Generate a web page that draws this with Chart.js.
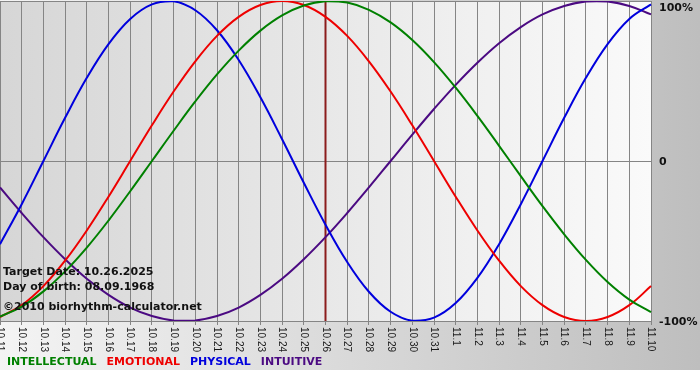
<!DOCTYPE html>
<html>
<head>
<meta charset="utf-8">
<script src="https://cdn.jsdelivr.net/npm/chart.js@4/dist/chart.umd.min.js"></script>
<style>
html, body { margin: 0; padding: 0; background: #fff; }
#bio { display: block; }
</style>
</head>
<body>
<canvas id="bio" width="700" height="370"></canvas>
<script>
var days = ['10.11', '10.12', '10.13', '10.14', '10.15', '10.16', '10.17', '10.18', '10.19', '10.20',
  '10.21', '10.22', '10.23', '10.24', '10.25', '10.26', '10.27', '10.28', '10.29', '10.30', '10.31',
  '11.1', '11.2', '11.3', '11.4', '11.5', '11.6', '11.7', '11.8', '11.9', '11.10'];

var intellectual = [-97.2, -91.0, -81.5, -69.0, -54.1, -37.2, -18.9, 0, 18.9, 37.2, 54.1, 69.0, 81.5, 91.0, 97.2,
  99.9, 99.0, 94.5, 86.6, 75.6, 61.8, 45.8, 28.2, 9.5, -9.5, -28.2, -45.8, -61.8, -75.6, -86.6, -94.5];
var emotional = [-97.5, -90.1, -78.2, -62.3, -43.4, -22.3, 0, 22.3, 43.4, 62.3, 78.2, 90.1, 97.5, 100, 97.5,
  90.1, 78.2, 62.3, 43.4, 22.3, 0, -22.3, -43.4, -62.3, -78.2, -90.1, -97.5, -100, -97.5, -90.1, -78.2];
var physical = [-52.0, -27.0, 0, 27.0, 52.0, 73.1, 88.8, 97.9, 99.8, 94.2, 81.7, 63.1, 39.8, 13.6, -13.6,
  -39.8, -63.1, -81.7, -94.2, -99.8, -97.9, -88.8, -73.1, -52.0, -27.0, 0, 27.0, 52.0, 73.1, 88.8, 97.9];
var intuitive = [-16.5, -32.5, -47.6, -61.4, -73.6, -83.7, -91.6, -96.9, -99.7, -99.7, -96.9, -91.6, -83.7, -73.6, -61.4,
  -47.6, -32.5, -16.5, 0, 16.5, 32.5, 47.6, 61.4, 73.6, 83.7, 91.6, 96.9, 99.7, 99.7, 96.9, 91.6];

var yTicks = [100, 0, -100];
var targetDay = '10.26';
var infoLines = ['Target Date: 10.26.2025', 'Day of birth: 08.09.1968', '\u00a92010 biorhythm-calculator.net'];
var legendNames = ['INTELLECTUAL', 'EMOTIONAL', 'PHYSICAL', 'INTUITIVE'];
var colors = ['#008000', '#ee0000', '#0000dd', '#4b0a82'];

var bioPlugin = {
  id: 'bioPlugin',
  beforeDraw: function (chart) {
    var ctx = chart.ctx;
    var a = chart.chartArea;
    var g = ctx.createLinearGradient(0, 0, chart.width, 0);
    g.addColorStop(0, '#f4f4f4');
    g.addColorStop(1, '#bebebe');
    ctx.save();
    ctx.fillStyle = g;
    ctx.fillRect(0, 0, chart.width, chart.height);
    var g2 = ctx.createLinearGradient(a.left, 0, a.right, 0);
    g2.addColorStop(0, '#d6d6d6');
    g2.addColorStop(1, '#fafafa');
    ctx.fillStyle = g2;
    ctx.fillRect(a.left, a.top, a.right - a.left, a.bottom - a.top);
    ctx.restore();
  },
  beforeDatasetsDraw: function (chart) {
    var ctx = chart.ctx;
    var a = chart.chartArea;
    var x = chart.scales.x.getPixelForValue(days.indexOf(targetDay));
    ctx.save();
    ctx.strokeStyle = '#8b1c1c';
    ctx.lineWidth = 2;
    ctx.beginPath();
    ctx.moveTo(x, a.top);
    ctx.lineTo(x, a.bottom);
    ctx.stroke();
    ctx.restore();
  },
  afterDatasetsDraw: function (chart) {
    var ctx = chart.ctx;
    var a = chart.chartArea;
    var xs = chart.scales.x;
    var ys = chart.scales.y;
    ctx.save();

    // day labels turned to read top to bottom
    ctx.fillStyle = '#1a1a1a';
    ctx.font = '10px "Liberation Sans"';
    ctx.textAlign = 'left';
    ctx.textBaseline = 'middle';
    days.forEach(function (d, i) {
      ctx.save();
      ctx.translate(xs.getPixelForTick(i), a.bottom + 6);
      ctx.rotate(Math.PI / 2);
      ctx.fillText(d, 0, 0);
      ctx.restore();
    });

    // percent labels on the right
    ctx.fillStyle = '#111';
    ctx.font = 'bold 11px "DejaVu Sans"';
    yTicks.forEach(function (v) {
      var y = ys.getPixelForValue(v);
      if (v === 100) y += 6;
      ctx.fillText(v === 0 ? '0' : v + '%', a.right + 8, y + 1);
    });

    // info text
    infoLines.forEach(function (t, i) {
      ctx.fillText(t, 3, [272, 287, 307][i]);
    });

    // legend
    var lx = 7;
    legendNames.forEach(function (n, i) {
      ctx.fillStyle = colors[i];
      ctx.fillText(n, lx, 362);
      lx += ctx.measureText(n).width + 10;
    });
    ctx.restore();
  }
};

function line(label, data, color) {
  return {
    label: label,
    data: data,
    borderColor: color,
    backgroundColor: color,
    borderWidth: 2,
    pointRadius: 0,
    tension: 0.4,
    fill: false
  };
}

var bioChart = new Chart(document.getElementById('bio'), {
  type: 'line',
  data: {
    labels: days,
    datasets: [
      line('INTELLECTUAL', intellectual, colors[0]),
      line('EMOTIONAL', emotional, colors[1]),
      line('PHYSICAL', physical, colors[2]),
      line('INTUITIVE', intuitive, colors[3])
    ]
  },
  options: {
    responsive: false,
    animation: false,
    devicePixelRatio: 1,
    layout: { padding: { top: 1, left: 0, right: 0, bottom: 0 } },
    plugins: {
      legend: { display: false },
      tooltip: { enabled: false }
    },
    scales: {
      x: {
        type: 'category',
        offset: false,
        grid: { color: '#858585', lineWidth: 1, drawTicks: true, tickLength: 4, tickColor: '#858585' },
        border: { display: true, color: '#858585' },
        ticks: { display: false },
        afterFit: function (s) { s.height = 49; }
      },
      y: {
        position: 'right',
        min: -100,
        max: 100,
        ticks: { display: false, stepSize: 100 },
        grid: { color: '#858585', lineWidth: 1, drawTicks: false },
        border: { display: false },
        afterFit: function (s) { s.width = 49; }
      }
    }
  },
  plugins: [bioPlugin]
});
</script>
</body>
</html>
